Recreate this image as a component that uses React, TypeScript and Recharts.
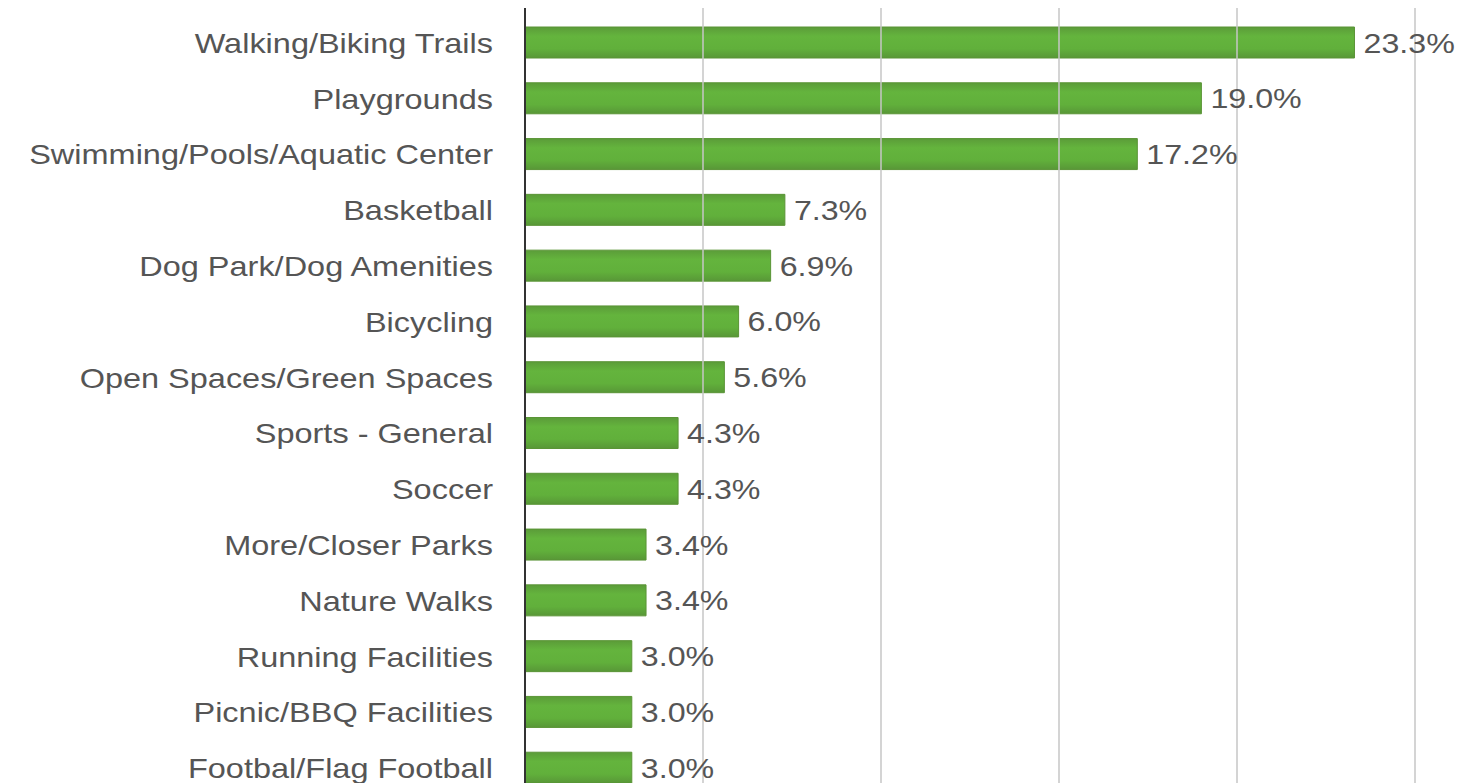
import { BarChart, Bar, XAxis, YAxis, ReferenceLine, LabelList } from "recharts"

const categories = [
  "Walking/Biking Trails",
  "Playgrounds",
  "Swimming/Pools/Aquatic Center",
  "Basketball",
  "Dog Park/Dog Amenities",
  "Bicycling",
  "Open Spaces/Green Spaces",
  "Sports - General",
  "Soccer",
  "More/Closer Parks",
  "Nature Walks",
  "Running Facilities",
  "Picnic/BBQ Facilities",
  "Footbal/Flag Football",
]

const shares = [23.3, 19.0, 17.2, 7.3, 6.9, 6.0, 5.6, 4.3, 4.3, 3.4, 3.4, 3.0, 3.0, 3.0]

const xTicks = [0, 5, 10, 15, 20, 25]

const data = categories.map((name, i) => ({ name, share: shares[i] }))

const FONT = "'Liberation Sans', Arial, sans-serif"
const TEXT = "#555"

function CategoryTick(props: any) {
  const { x, y, payload } = props
  return (
    <text
      transform={`translate(${x},${y + 10}) scale(1.16,1)`}
      textAnchor="end"
      fontFamily={FONT}
      fontSize={28}
      fill={TEXT}
    >
      {payload.value}
    </text>
  )
}

function ValueLabel(props: any) {
  const { x, y, width, height, value } = props
  return (
    <text
      transform={`translate(${x + width + 9},${y + height / 2 + 10}) scale(1.15,1)`}
      fontFamily={FONT}
      fontSize={28}
      fill={TEXT}
    >
      {Number(value).toFixed(1)}%
    </text>
  )
}

export default function App() {
  return (
    <div
      style={{
        position: "fixed",
        left: 0,
        top: 0,
        width: 1457,
        height: 783,
        overflow: "hidden",
        background: "#fff",
      }}
    >
      <BarChart
        width={1457}
        height={800}
        data={data}
        layout="vertical"
        margin={{ top: 8, right: 42, left: 0, bottom: 4 }}
      >
        <defs>
          <linearGradient id="barFill" x1="0" y1="0" x2="0" y2="1">
            <stop offset="0%" stopColor="#5b9c39" />
            <stop offset="30%" stopColor="#64b43d" />
            <stop offset="70%" stopColor="#61b03b" />
            <stop offset="100%" stopColor="#589737" />
          </linearGradient>
        </defs>
        {xTicks.slice(1).map((t) => (
          <ReferenceLine key={t} x={t} stroke="#c6c6c6" strokeWidth={1.5} />
        ))}
        <XAxis
          type="number"
          domain={[0, 25]}
          ticks={xTicks}
          height={0}
          tick={false}
          axisLine={false}
          tickLine={false}
        />
        <YAxis
          type="category"
          dataKey="name"
          width={525}
          padding={{ top: 7, bottom: 0 }}
          tick={<CategoryTick />}
          tickLine={false}
          tickSize={0}
          tickMargin={32}
          axisLine={{ stroke: "#333", strokeWidth: 2 }}
          interval={0}
        />
        <Bar
          dataKey="share"
          fill="url(#barFill)"
          stroke="#5a9436"
          strokeWidth={1}
          barSize={31}
          isAnimationActive={false}
        >
          <LabelList dataKey="share" content={<ValueLabel />} />
        </Bar>
      </BarChart>
    </div>
  )
}
